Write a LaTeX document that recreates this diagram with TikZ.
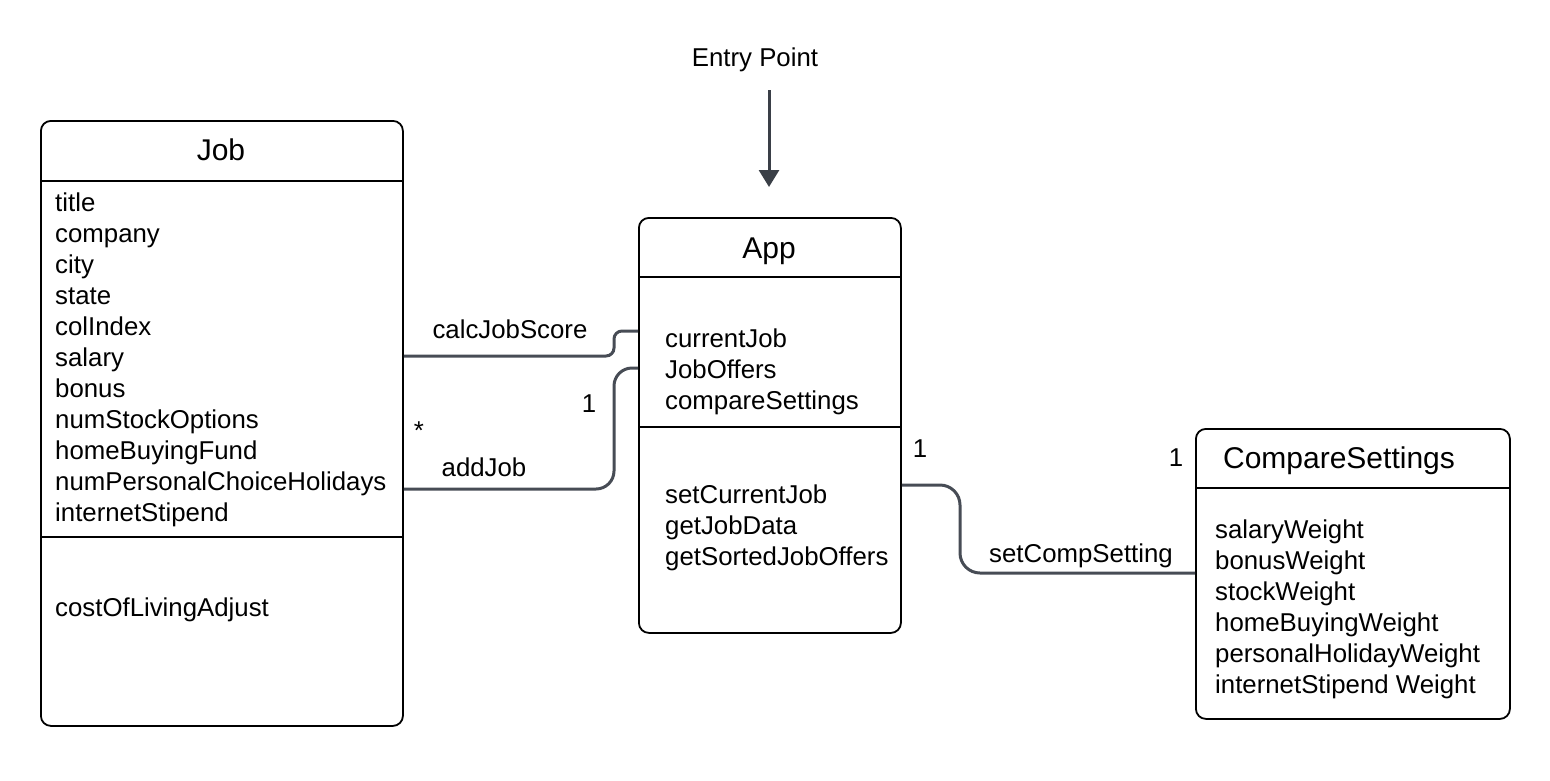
\documentclass[tikz,border=0pt]{standalone}
\usepackage{fontspec}
\setmainfont{Liberation Sans}
\usetikzlibrary{arrows.meta}
\definecolor{conncol}{HTML}{474C55}
\definecolor{arrcol}{HTML}{3A3F47}
\begin{document}
\begin{tikzpicture}[x=1pt,y=-1pt,
  classbox/.style={draw=black,line width=1.8pt,rounded corners=10pt,minimum width=#1,inner sep=0pt,anchor=north west},
  divider/.style={draw=black,line width=1.8pt},
  txt/.style={anchor=west,inner sep=0pt,text height=18.5pt,text depth=0pt,font=\fontsize{25.8}{31}\selectfont},
  ttl/.style={anchor=center,inner sep=0pt,text height=21.5pt,text depth=0pt,font=\fontsize{30}{36}\selectfont},
  lbl/.style={anchor=center,inner sep=0pt,text height=18.5pt,text depth=0pt,font=\fontsize{25.8}{31}\selectfont},
  conn/.style={draw=conncol,line width=3pt},
]
\useasboundingbox (0,0) rectangle (1550,780);

% Job class
\node[classbox=362pt,minimum height=605pt] (job) at (40,120) {};
\draw[divider] (job.west |- 0,181) -- (job.east |- 0,181);
\draw[divider] (job.west |- 0,537) -- (job.east |- 0,537);
\node[ttl] (jobtitle) at (221,150) {Job};
\foreach \t [count=\i] in {title,company,city,state,colIndex,salary,bonus,numStockOptions,homeBuyingFund,numPersonalChoiceHolidays,internetStipend}
  \node[txt] (joba\i) at (55,{202+31*(\i-1)}) {\t};
\node[txt] (jobm1) at (55,607) {costOfLivingAdjust};

% App class
\node[classbox=262pt,minimum height=415pt] (app) at (638,217) {};
\draw[divider] (app.west |- 0,277) -- (app.east |- 0,277);
\draw[divider] (app.west |- 0,427) -- (app.east |- 0,427);
\node[ttl] (apptitle) at (769,248) {App};
\foreach \t [count=\i] in {currentJob,JobOffers,compareSettings}
  \node[txt] (appa\i) at (665,{338+31*(\i-1)}) {\t};
\foreach \t [count=\i] in {setCurrentJob,getJobData,getSortedJobOffers}
  \node[txt] (appm\i) at (665,{494+31*(\i-1)}) {\t};

% CompareSettings class
\node[classbox=314pt,minimum height=290pt] (cs) at (1195,428) {};
\draw[divider] (cs.west |- 0,488) -- (cs.east |- 0,488);
\node[ttl] (cstitle) at (1339,458) {CompareSettings};
\foreach \t [count=\i] in {salaryWeight,bonusWeight,stockWeight,homeBuyingWeight,personalHolidayWeight,internetStipend Weight}
  \node[txt] (csa\i) at (1215,{529+31*(\i-1)}) {\t};

% Entry point
\node[lbl] (entry) at (755,57) {Entry Point};
\coordinate (entrystart) at (769,90);
\coordinate (entryend) at (769,187);
\draw[draw=arrcol,line width=3pt,-{Triangle[length=17pt,width=20pt]},arrcol] (entrystart) -- (entryend);

% Connectors
\draw[conn,rounded corners=8pt] (job.east |- 0,356) -- (614,356) -- (614,331) -- (app.west |- 0,331);
\draw[conn,rounded corners=18pt] (job.east |- 0,489) -- (614,489) -- (614,368) -- (app.west |- 0,368);
\draw[conn,rounded corners=20pt] (app.east |- 0,485) -- (960,485) -- (960,573) -- (cs.west |- 0,573);

% Labels
\node[lbl] (lcalc) at (510,329) {calcJobScore};
\node[lbl] (ladd) at (484,467) {addJob};
\node[lbl] (lstar) at (419,430) {*};
\node[lbl] (lone1) at (589,403) {1};
\node[lbl] (lone2) at (920,448) {1};
\node[lbl] (lone3) at (1176,457) {1};
\node[lbl] (lset) at (1081,553) {setCompSetting};
\end{tikzpicture}
\end{document}
